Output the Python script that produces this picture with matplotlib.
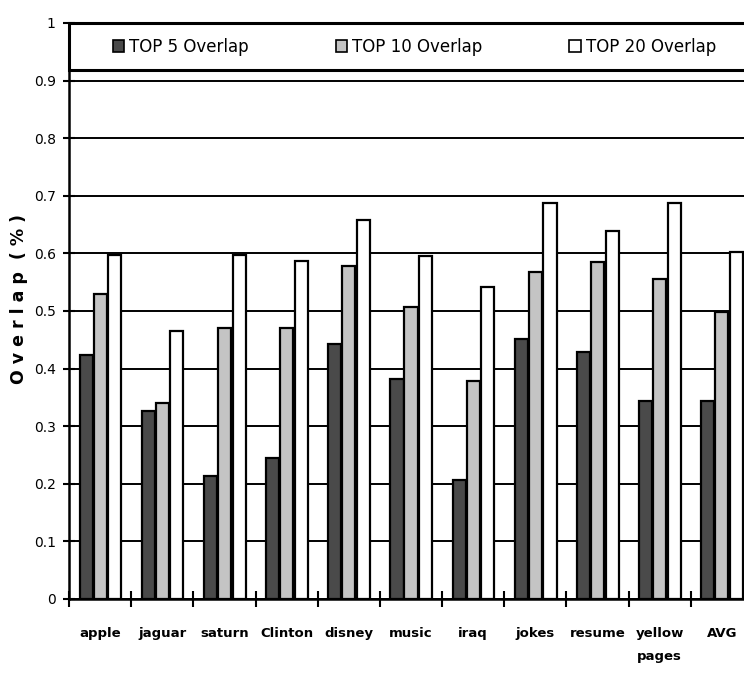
import numpy as np
import matplotlib
matplotlib.use("Agg")
import matplotlib.pyplot as plt
from matplotlib.patches import Rectangle
from matplotlib.ticker import FuncFormatter

# overlap of result lists per query
queries = ["apple", "jaguar", "saturn", "Clinton", "disney", "music",
           "iraq", "jokes", "resume", "yellow\npages", "AVG"]
top5 = [0.424, 0.327, 0.214, 0.244, 0.442, 0.382, 0.206, 0.451, 0.428, 0.344, 0.344]
top10 = [0.530, 0.341, 0.471, 0.471, 0.578, 0.507, 0.379, 0.568, 0.585, 0.555, 0.499]
top20 = [0.597, 0.465, 0.597, 0.586, 0.658, 0.596, 0.541, 0.687, 0.639, 0.687, 0.603]
series_names = ["TOP 5 Overlap", "TOP 10 Overlap", "TOP 20 Overlap"]

plt.rcParams['font.family'] = ['DejaVu Sans']

fig = plt.figure(figsize=(7.44, 6.76), dpi=100)
ax = fig.add_axes([69/744, 77/676, 684/744, 576/676])

x = np.arange(len(queries))
w = 0.21
ax.bar(x - 0.225, top5, w, color="#4a4a4a", edgecolor="black", lw=1.6, label=series_names[0], zorder=3)
ax.bar(x, top10, w, color="#c4c4c4", edgecolor="black", lw=1.6, label=series_names[1], zorder=3)
ax.bar(x + 0.235, top20, w, color="white", edgecolor="black", lw=1.6, label=series_names[2], zorder=3)

ax.set_xlim(-0.5, len(queries) - 0.5)
ax.set_ylim(0, 1)
ax.set_yticks(np.arange(0, 1.01, 0.1))
ax.yaxis.set_major_formatter(FuncFormatter(lambda v, p: "%g" % round(v, 1)))
ax.yaxis.grid(True, color="black", lw=1.4, zorder=0)
ax.tick_params(axis="y", direction="inout", length=9, width=1.5, labelsize=10, pad=5)

# boundary ticks between groups, names at group centres
ax.set_xticks(np.arange(-0.5, len(queries), 1))
ax.set_xticklabels([])
ax.tick_params(axis="x", which="major", direction="inout", length=12, width=1.5)
ax.set_xticks(x, minor=True)
ax.set_xticklabels(queries, minor=True, fontweight="bold", fontsize=9.5, linespacing=2.0)
ax.tick_params(axis="x", which="minor", length=0, pad=20)

for s in ["top", "right"]:
    ax.spines[s].set_visible(False)
for s in ["left", "bottom"]:
    ax.spines[s].set_linewidth(1.8)

ax.set_ylabel("O v e r l a p  ( % )", fontsize=12.5, fontweight="bold")
ax.yaxis.set_label_coords(-0.06, 0.52)

# legend strip across the top of the plot
ax.add_patch(Rectangle((0, 0.918), 1.1, 0.082, transform=ax.transAxes,
                       facecolor="white", edgecolor="black", lw=2.2, zorder=4, clip_on=False))
leg = ax.legend(loc="center", bbox_to_anchor=(0.505, 0.959), ncol=3, frameon=False,
                fontsize=12, handlelength=0.7, handleheight=0.7, handletextpad=0.3,
                columnspacing=5.2, borderaxespad=0)
leg.set_zorder(5)
for h in leg.legend_handles:
    h.set_linewidth(1.2)

fig.savefig("out.png", dpi=100)
